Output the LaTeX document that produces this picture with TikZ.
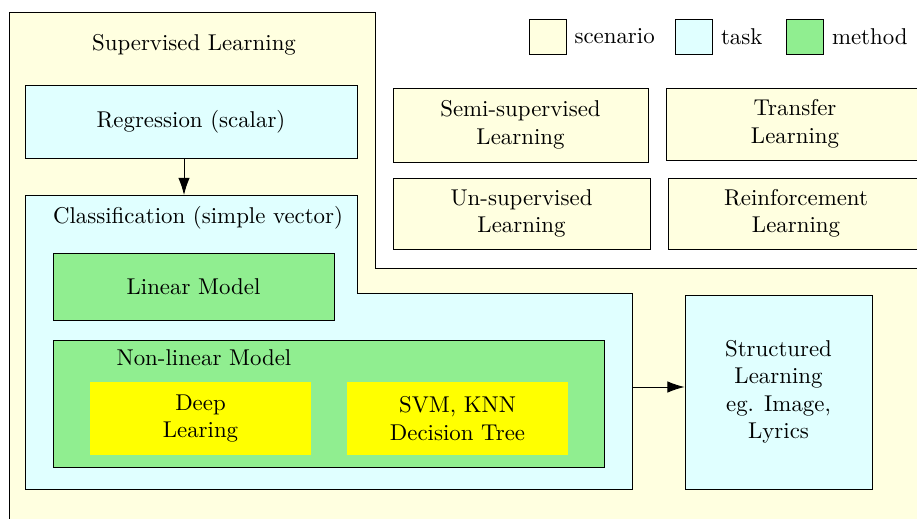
\documentclass[tikz,border=0pt]{standalone}
\usetikzlibrary{arrows.meta}
\definecolor{scen}{HTML}{FFFFE0}
\definecolor{tsk}{HTML}{E0FFFF}
\definecolor{meth}{HTML}{90EE90}
\definecolor{hot}{HTML}{FFFF00}
\newcommand\upx{0.4375pt}
\tikzset{
  box/.style={draw, inner sep=0pt, align=center, line width=0.4pt},
  scenbox/.style={box, fill=scen},
  taskbox/.style={box, fill=tsk},
  methbox/.style={box, fill=meth},
  hotbox/.style={inner sep=0pt, align=center, fill=hot},
  legsq/.style={draw, fill=#1, minimum width=37*\upx, minimum height=35*\upx, inner sep=0pt},
  conn/.style={-{Latex[length=7.5pt,width=5pt]}, line width=0.4pt},
}
\begin{document}
\begin{tikzpicture}[x=0.4375pt, y=-0.4375pt]
\useasboundingbox (0,0) rectangle (917,519);
\clip (0,0) rectangle (917,519);

% scenario area (supervised learning region)
\draw[fill=scen, line width=0.4pt] (9,560) -- (9,12) -- (375,12) -- (375,268) -- (960,268) -- (960,560) -- cycle;
\node (sup) at (194,45) {Supervised Learning};

% legend
\node[legsq=scen] (lg1) at (547.5,36.5) {};
\node[anchor=west] (lt1) at (lg1.east) {scenario};
\node[legsq=tsk] (lg2) at (694,36.5) {};
\node[anchor=west] (lt2) at (lg2.east) {task};
\node[legsq=meth] (lg3) at (805,36.5) {};
\node[anchor=west] (lt3) at (lg3.east) {method};

% other scenarios
\node[scenbox, minimum width=255*\upx, minimum height=74*\upx] (semi) at (520.5,125) {Semi-supervised\\Learning};
\node[scenbox, minimum width=258*\upx, minimum height=72*\upx] (trans) at (795,124) {Transfer\\Learning};
\node[scenbox, minimum width=257*\upx, minimum height=71*\upx] (unsup) at (521.5,213.5) {Un-supervised\\Learning};
\node[scenbox, minimum width=256*\upx, minimum height=71*\upx] (reinf) at (796,213.5) {Reinforcement\\Learning};

% regression task
\node[taskbox, minimum width=332*\upx, minimum height=73*\upx] (reg) at (191,121.5) {Regression (scalar)};

% classification task
\draw[fill=tsk, line width=0.4pt] (25,195) -- (357,195) -- (357,293) -- (632,293) -- (632,489) -- (25,489) -- cycle;
\node (cls) at (198,218) {Classification (simple vector)};
\coordinate (clstop) at (184,195);
\coordinate (clsright) at (632,387);

% methods
\node[methbox, minimum width=281*\upx, minimum height=67*\upx] (lin) at (193.5,286.5) {Linear Model};
\node[methbox, minimum width=551*\upx, minimum height=127*\upx] (nonlin) at (328.5,403.5) {};
\node (nonlinlbl) at (204,358) {Non-linear Model};
\node[hotbox, minimum width=221*\upx, minimum height=73*\upx] (deep) at (200.5,418.5) {Deep\\Learing};
\node[hotbox, minimum width=221*\upx, minimum height=73*\upx] (svm) at (457.5,418.5) {SVM, KNN\\Decision Tree};

% structured learning task
\node[taskbox, minimum width=187*\upx, minimum height=194*\upx] (struct) at (778.5,392) {Structured\\Learning\\eg. Image,\\Lyrics};

% connectors
\draw[conn] (reg.south -| clstop) -- (clstop);
\draw[conn] (clsright) -- (struct.west |- clsright);
\end{tikzpicture}
\end{document}
